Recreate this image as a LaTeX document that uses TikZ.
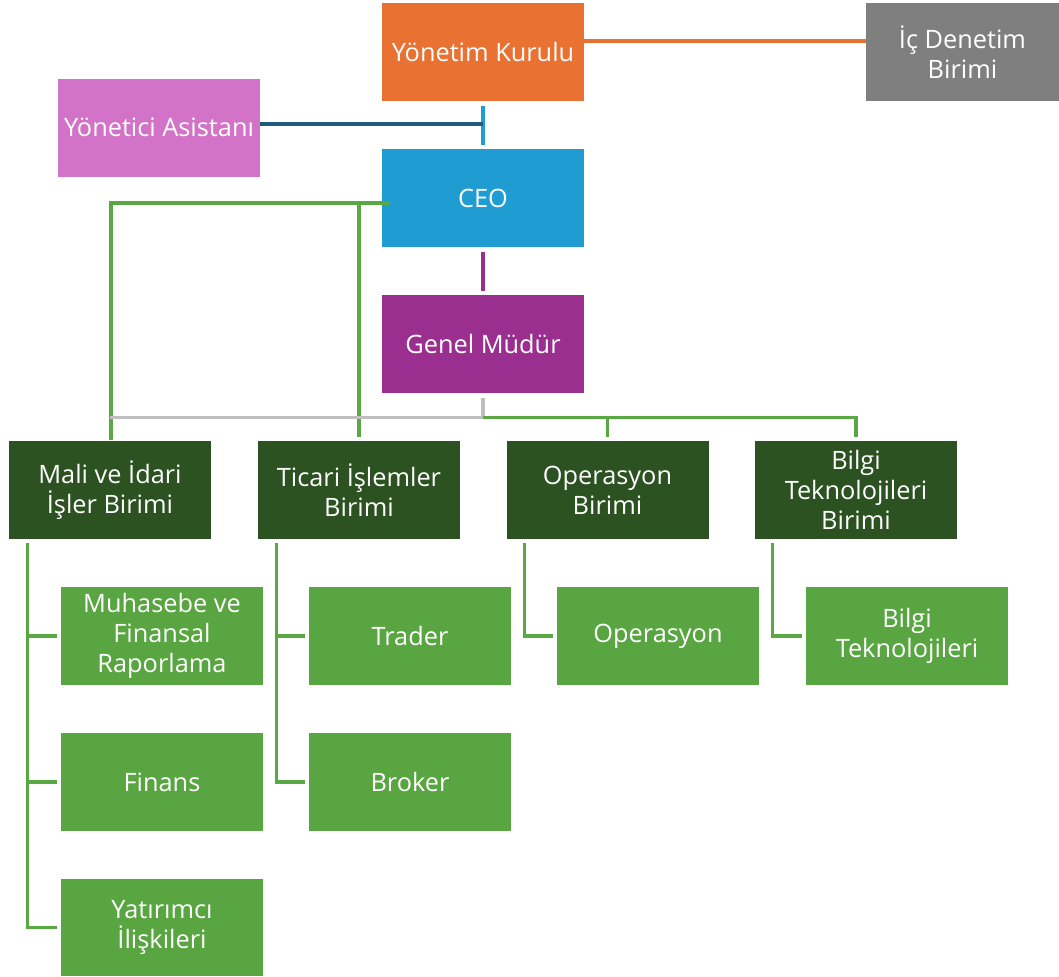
\documentclass[tikz,border=0pt]{standalone}
\usepackage{fontspec}
\setmainfont{Open Sans}
\usetikzlibrary{calc}
\definecolor{cOrange}{HTML}{E97132}
\definecolor{cGray}{HTML}{7F7F7F}
\definecolor{cPink}{HTML}{D373C7}
\definecolor{cBlue}{HTML}{1F9DD3}
\definecolor{cPurple}{HTML}{9B2F8F}
\definecolor{cDark}{HTML}{2B5220}
\definecolor{cLight}{HTML}{58A541}
\definecolor{lGreen}{HTML}{5AA843}
\definecolor{lGray}{HTML}{BFBFBF}
\definecolor{lDBlue}{HTML}{1E5C7E}
\tikzset{
  box/.style={draw=none, minimum width=151.5pt, minimum height=73.5pt, inner sep=0pt,
    align=center, text=white, font=\fontsize{19}{22.5}\selectfont},
  ln/.style={line width=2.5pt},
}
\begin{document}
\begin{tikzpicture}[x=0.75pt,y=-0.75pt]
\fill[white] (0,0) rectangle (1059,976);
\useasboundingbox (0,0) rectangle (1059,976);
% top
\node[box, fill=cOrange] (yk) at (483,52) {Yönetim Kurulu};
\node[box, fill=cGray, minimum width=144.75pt] (ic) at (962.5,52) {İç Denetim\\Birimi};
\node[box, fill=cPink] (ya) at (159,127.5) {Yönetici Asistanı};
\node[box, fill=cBlue] (ceo) at (483,198) {CEO};
\node[box, fill=cPurple] (gm) at (483,344) {Genel Müdür};
% units
\node[box, fill=cDark] (mali) at (110,490) {Mali ve İdari\\İşler Birimi};
\node[box, fill=cDark] (tic) at (359,490) {Ticari İşlemler\\Birimi};
\node[box, fill=cDark] (ops) at (607.5,490) {Operasyon\\Birimi};
\node[box, fill=cDark] (bil) at (856,490) {Bilgi\\Teknolojileri\\Birimi};
% sub
\node[box, fill=cLight] (muh) at (162,636) {Muhasebe ve\\Finansal\\Raporlama};
\node[box, fill=cLight] (fin) at (162,782) {Finans};
\node[box, fill=cLight, minimum height=72.75pt] (yat) at (162,927.5) {Yatırımcı\\İlişkileri};
\node[box, fill=cLight] (tra) at (410,636) {Trader};
\node[box, fill=cLight] (bro) at (410,782) {Broker};
\node[box, fill=cLight] (op) at (658,636) {Operasyon};
\node[box, fill=cLight] (bt) at (907,636) {Bilgi\\Teknolojileri};
% connectors
\draw[ln, cOrange] ([yshift=8.25pt]yk.east) -- ([yshift=8.25pt]ic.west);
\draw[ln, cBlue] ([yshift=-3.75pt]yk.south) -- ([yshift=3pt]ceo.north);
\draw[ln, lDBlue] ([yshift=2.6pt]ya.east) -- ([yshift=2.6pt]ya.east -| yk.south);
\draw[ln, cPurple] ([yshift=-3.75pt]ceo.south) -- ([yshift=3pt]gm.north);
\coordinate (cl) at ([xshift=6pt,yshift=-3.75pt]ceo.west);
\draw[ln, lGreen] (cl) -| ([xshift=0.75pt,yshift=0.5pt]mali.north);
\draw[ln, lGreen] (cl -| tic.north) -- ([yshift=3pt]tic.north);
\coordinate (gb) at ([yshift=-18pt]gm.south);
\draw[ln, lGray] ([yshift=-3.75pt]gm.south) -- (gb) -- (gb -| mali.north);
\draw[ln, lGreen] (gb) -| ([yshift=3pt]bil.north);
\draw[ln, lGreen] (gb -| ops.north) -- ([yshift=3pt]ops.north);
% sub connectors
\coordinate (m0) at ([xshift=14.25pt,yshift=-3pt]mali.south west);
\draw[ln, lGreen] (m0) |- ([xshift=-3pt]yat.west);
\draw[ln, lGreen] (m0 |- muh.west) -- ([xshift=-3pt]muh.west);
\draw[ln, lGreen] (m0 |- fin.west) -- ([xshift=-3pt]fin.west);
\coordinate (t0) at ([xshift=14.25pt,yshift=-3pt]tic.south west);
\draw[ln, lGreen] (t0) |- ([xshift=-3pt]bro.west);
\draw[ln, lGreen] (t0 |- tra.west) -- ([xshift=-3pt]tra.west);
\coordinate (o0) at ([xshift=13.5pt,yshift=-3pt]ops.south west);
\draw[ln, lGreen] (o0) |- ([xshift=-3pt]op.west);
\coordinate (b0) at ([xshift=13.5pt,yshift=-3pt]bil.south west);
\draw[ln, lGreen] (b0) |- ([xshift=-3pt]bt.west);
\end{tikzpicture}
\end{document}
